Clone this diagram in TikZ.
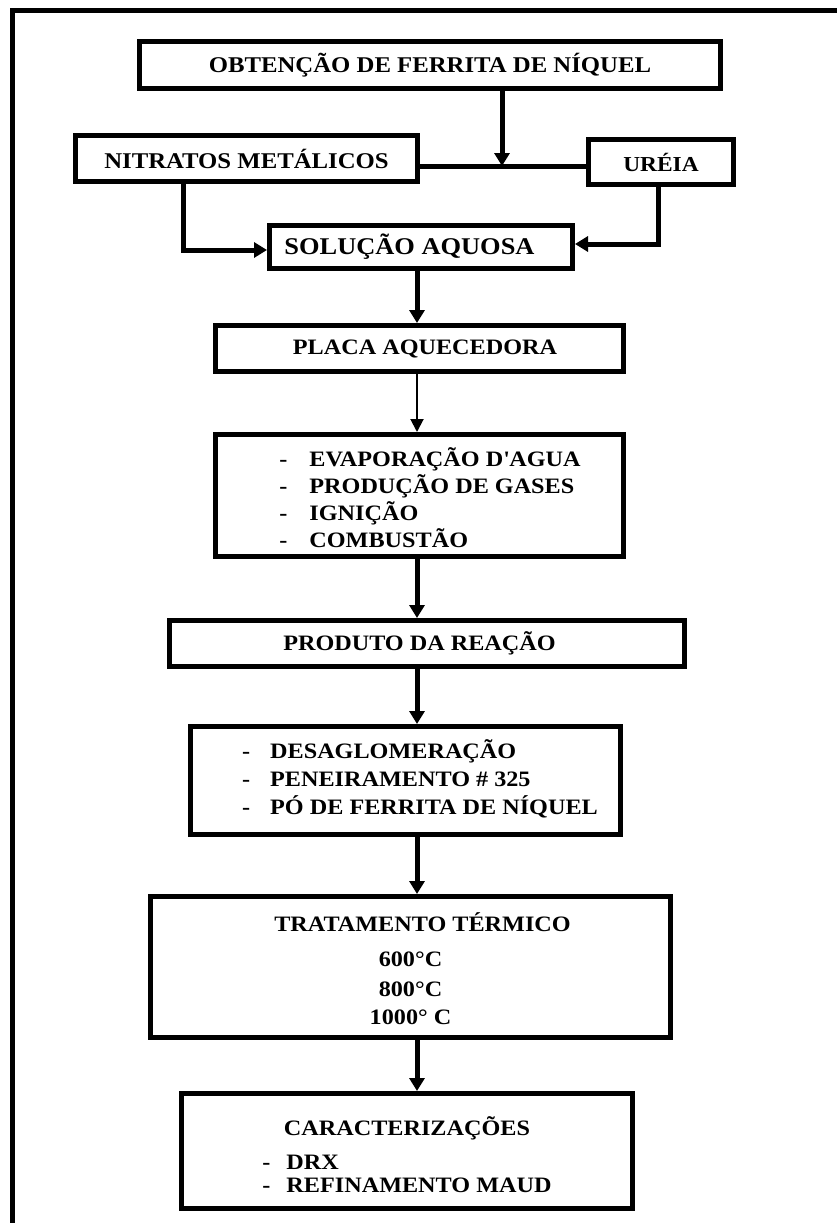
\documentclass[tikz,border=0pt]{standalone}
\usepackage{fontspec}
\setmainfont{Liberation Serif}[FakeStretch=1.1]
\usetikzlibrary{arrows.meta, positioning}

\tikzset{
  box/.style={draw, line width=5pt, inner sep=0pt, font=\fontsize{22}{26}\selectfont\bfseries},
  flow/.style={line width=5pt, -{Triangle[length=13pt,width=15pt]}},
  thinflow/.style={line width=2pt, -{Triangle[length=13pt,width=13pt]}}
}

\begin{document}
\begin{tikzpicture}[x=1pt, y=-1pt]
    \useasboundingbox (0,0) rectangle (837,1223);
    % outer frame
    \draw[line width=5pt] (12,1223) -- (12,11) -- (837,11);

    \node[box, minimum width=581pt, minimum height=47pt, font=\fontsize{22.5}{26}\selectfont\bfseries] (obt) at (430,65) {OBTENÇÃO DE FERRITA DE NÍQUEL};
    \node[box, minimum width=342pt, minimum height=46pt, font=\fontsize{22.5}{26}\selectfont\bfseries] (nit) at (246.5,158.5) {NITRATOS METÁLICOS};
    \node[box, minimum width=145pt, minimum height=45pt, font=\fontsize{21.3}{26}\selectfont\bfseries] (ure) at (661,162) {URÉIA};
    \node[box, minimum width=303pt, minimum height=43pt, font=\fontsize{24}{28}\selectfont\bfseries] (sol) at (421,247) {SOLUÇÃO AQUOSA\hspace*{23pt}};
    \node[box, minimum width=408pt, minimum height=46pt] (pla) at (419.5,348.5) {\hspace*{11pt}PLACA AQUECEDORA};
    \node[box, minimum width=408pt, minimum height=122pt, font=\fontsize{22}{27}\selectfont\bfseries] (eva) at (419.5,495.5) {%
        \begin{tabular}{@{\hspace{21pt}}l@{\hspace{22pt}}l@{}}
        \rule{0pt}{31pt}- & EVAPORAÇÃO D\textquotesingle AGUA\\
        - & PRODUÇÃO DE GASES\\
        - & IGNIÇÃO\\
        - & COMBUSTÃO
        \end{tabular}};
    \node[box, minimum width=515pt, minimum height=46pt] (pro) at (427,643.5) {PRODUTO DA REAÇÃO\hspace*{15pt}};
    \node[box, minimum width=430pt, minimum height=108pt, font=\fontsize{22}{28}\selectfont\bfseries] (des) at (405.5,780.5) {%
        \begin{tabular}{@{\hspace{29pt}}l@{\hspace{20pt}}l@{}}
        - & DESAGLOMERAÇÃO\\
        - & PENEIRAMENTO \# 325\\
        - & PÓ DE FERRITA DE NÍQUEL
        \end{tabular}};
    \node[box, minimum width=520pt, minimum height=141pt, font=\fontsize{22}{28}\selectfont\bfseries] (tra) at (410.5,967) {%
        \begin{tabular}{@{}c@{}}
        \rule{0pt}{30pt}\hspace*{24pt}TRATAMENTO TÉRMICO\\[7pt]
        600°C\\[2pt]
        800°C\\
        1000° C
        \end{tabular}};
    \node[box, minimum width=451pt, minimum height=115pt] (car) at (407,1151) {%
        \begin{tabular}{@{}l@{\hspace{16pt}}l@{}}
        \multicolumn{2}{@{}c@{}}{\rule{0pt}{34pt}CARACTERIZAÇÕES}\\[8pt]
        - & DRX\\[-3pt]
        - & REFINAMENTO MAUD
        \end{tabular}};

    % joining the reagents
    \coordinate (join) at (502,166);
    \coordinate (spine) at (417,0);
    \draw[line width=5pt] (nit.east |- join) -- (ure.west |- join);
    \draw[flow] (obt.south -| join) -- (join);
    \draw[flow] ([xshift=-63.5pt]nit.south) |- ([yshift=-3pt]sol.west);
    \draw[flow] ([xshift=-3pt]ure.south) |- ([yshift=3pt]sol.east);

    % main line
    \draw[flow] (sol.south -| spine) -- (pla.north -| spine);
    \draw[thinflow] (pla.south -| spine) -- (eva.north -| spine);
    \draw[flow] (eva.south -| spine) -- (pro.north -| spine);
    \draw[flow] (pro.south -| spine) -- (des.north -| spine);
    \draw[flow] (des.south -| spine) -- (tra.north -| spine);
    \draw[flow] (tra.south -| spine) -- (car.north -| spine);
\end{tikzpicture}
\end{document}
